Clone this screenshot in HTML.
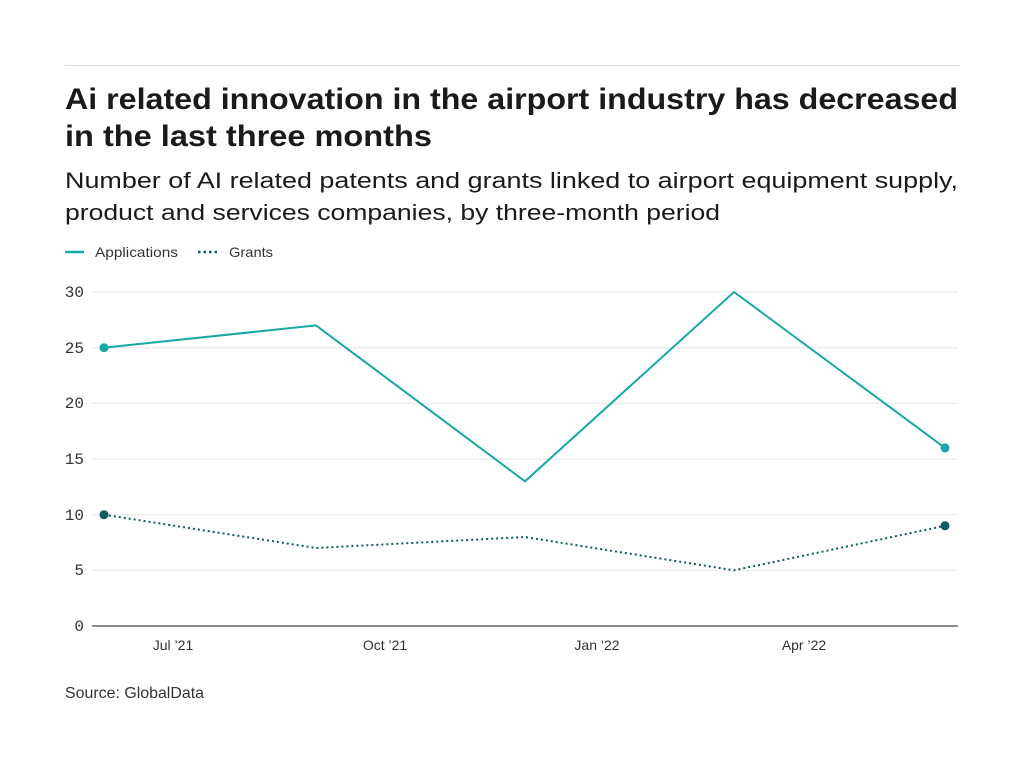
<!DOCTYPE html>
<html><head><meta charset="utf-8"><style>
html,body{margin:0;padding:0;background:#fff;width:1024px;height:768px;overflow:hidden}
</style></head><body>
<svg width="1024" height="768" xmlns="http://www.w3.org/2000/svg" font-family="Liberation Sans, sans-serif">
<line x1="65" y1="65.5" x2="960" y2="65.5" stroke="#d9d9d9" stroke-width="1"/>
<text x="65" y="109" font-size="30" font-weight="bold" fill="#1a1a1a" textLength="893" lengthAdjust="spacingAndGlyphs">Ai related innovation in the airport industry has decreased</text>
<text x="65" y="146" font-size="30" font-weight="bold" fill="#1a1a1a" textLength="367" lengthAdjust="spacingAndGlyphs">in the last three months</text>
<text x="65" y="188" font-size="22" fill="#1a1a1a" textLength="893" lengthAdjust="spacingAndGlyphs">Number of AI related patents and grants linked to airport equipment supply,</text>
<text x="65" y="220" font-size="22" fill="#1a1a1a" textLength="655" lengthAdjust="spacingAndGlyphs">product and services companies, by three-month period</text>
<line x1="65" y1="252" x2="84" y2="252" stroke="#17a8a5" stroke-width="2.5"/>
<text x="95" y="257" font-size="14" fill="#333" textLength="83" lengthAdjust="spacingAndGlyphs">Applications</text>
<line x1="198" y1="252" x2="218" y2="252" stroke="#0e5c5c" stroke-width="2.5" stroke-dasharray="2.5,3"/>
<text x="229" y="257" font-size="14" fill="#333" textLength="44" lengthAdjust="spacingAndGlyphs">Grants</text>
<g stroke="#e6e6e6" stroke-width="1">
<line x1="92" y1="292" x2="958" y2="292"/><line x1="92" y1="347.7" x2="958" y2="347.7"/>
<line x1="92" y1="403.3" x2="958" y2="403.3"/><line x1="92" y1="459" x2="958" y2="459"/>
<line x1="92" y1="514.7" x2="958" y2="514.7"/><line x1="92" y1="570.3" x2="958" y2="570.3"/>
</g>
<line x1="92" y1="626" x2="958" y2="626" stroke="#666" stroke-width="1.5"/>
<g font-family="Liberation Mono, monospace" font-size="16" fill="#333" text-anchor="end">
<text x="84" y="297">30</text><text x="84" y="353">25</text><text x="84" y="408">20</text>
<text x="84" y="464">15</text><text x="84" y="520">10</text><text x="84" y="575">5</text><text x="84" y="631">0</text>
</g>
<g font-size="14" fill="#333" text-anchor="middle">
<text x="173" y="650">Jul ’21</text><text x="385" y="650">Oct ’21</text>
<text x="597" y="650">Jan ’22</text><text x="804" y="650">Apr ’22</text>
</g>
<polyline points="104,347.7 316,325.4 525,481.3 734,292 945,447.9" fill="none" stroke="#17a8a5" stroke-width="2"/>
<circle cx="104" cy="347.7" r="4.5" fill="#17a8a5"/><circle cx="945" cy="447.9" r="4.5" fill="#17a8a5"/>
<polyline points="104,514.7 316,548 525,537 734,570.3 945,525.8" fill="none" stroke="#0e5c5c" stroke-width="2" stroke-dasharray="2,3"/>
<circle cx="104" cy="514.7" r="4.5" fill="#0e5c5c"/><circle cx="945" cy="525.8" r="4.5" fill="#0e5c5c"/>
<text x="65" y="698" font-size="16" fill="#333" textLength="139" lengthAdjust="spacingAndGlyphs">Source: GlobalData</text>
</svg>
</body></html>
